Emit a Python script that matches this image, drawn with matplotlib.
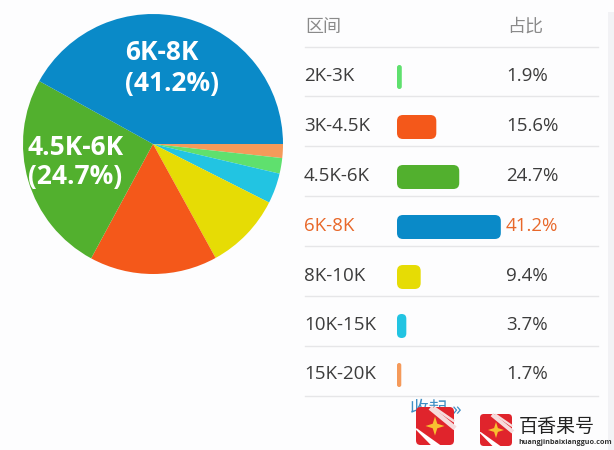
import matplotlib
matplotlib.use('agg')
import matplotlib.pyplot as plt
from matplotlib.patches import FancyBboxPatch, Polygon, Rectangle

plt.rcParams['font.family'] = ['Open Sans', 'Noto Sans CJK SC', 'DejaVu Sans']

header = ['区间', '占比']
ranges = ['2K-3K', '3K-4.5K', '4.5K-6K', '6K-8K', '8K-10K', '10K-15K', '15K-20K']
shares = [1.9, 15.6, 24.7, 41.2, 9.4, 3.7, 1.7]
colors = ['#5fe06e', '#f4581a', '#52b02e', '#0a8ac8', '#e6dc05', '#22c4e2', '#f59a5a']
# slices go clockwise from 3 o'clock
pie_order = [6, 0, 5, 4, 1, 2, 3]
row_y = [77, 127, 177, 227, 277, 326, 375]
line_y = [47, 96, 146, 196, 246, 296, 346, 396]

fig = plt.figure(figsize=(6.14, 4.5), dpi=100, facecolor='#fdfdfe')
ax = fig.add_axes([0, 0, 1, 1])

ax.pie([shares[i] for i in pie_order], colors=[colors[i] for i in pie_order],
       center=(153, 144), radius=130, startangle=0, counterclock=True, frame=True)
ax.set_xlim(0, 614)
ax.set_ylim(450, 0)
ax.set_aspect('auto')
ax.axis('off')

ax.text(125, 68, '6K-8K\n(41.2%)', color='white', fontsize=19, fontweight='bold',
        ha='left', va='center', linespacing=1.17)
ax.text(28, 162, '4.5K-6K\n(24.7%)', color='white', fontsize=19, fontweight='bold',
        ha='left', va='center', linespacing=1.08)

# table
ax.text(305, 27, header[0], color='#8a8a8a', fontsize=13, va='center')
ax.text(507, 27, header[1], color='#8a8a8a', fontsize=13, va='center')
for y in line_y:
    ax.plot([305, 598], [y, y], color='#e6e6e8', lw=1)
for i, name in enumerate(ranges):
    text_color = '#e8682a' if name == '6K-8K' else '#3c3c3c'
    ax.text(304, row_y[i] - 1, name, color=text_color, fontsize=13.5, va='center')
    ax.text(506, row_y[i] - 1, f'{shares[i]}%', color=text_color, fontsize=13.5, va='center')
    w = shares[i] * 2.52
    pad = min(w / 2, 6)
    ax.add_patch(FancyBboxPatch((397 + pad, row_y[i] - 12 + pad), w - 2 * pad, 24 - 2 * pad,
                                boxstyle=f'round,pad={pad},rounding_size={pad}',
                                fc=colors[i], ec='none'))

ax.add_patch(Rectangle((608, 12), 6, 438, fc='#f2f2f5', ec='none'))
ax.text(410, 409, '收起 »', color='#3f8fc4', fontsize=13.5, va='center')


# watermark logos
def logo(x, y, s):
    ax.add_patch(FancyBboxPatch((x + 0.1 * s, y + 0.1 * s), 0.8 * s, 0.8 * s,
                                boxstyle=f'round,pad={0.1 * s},rounding_size={0.12 * s}',
                                fc='#e0242c', ec='none', zorder=5))
    ax.add_patch(Polygon([(x - 0.02 * s, y + 0.58 * s), (x + 0.02 * s, y + 0.56 * s),
                          (x + 0.68 * s, y + 1.03 * s), (x + 0.42 * s, y + 1.03 * s)],
                         fc='white', ec='none', zorder=6))
    ax.plot([x + 0.42 * s, x + 0.98 * s], [y + 0.06 * s, y + 0.52 * s], color='#f6dcdc',
            lw=0.09 * s, zorder=6)
    ax.plot([x + 0.5 * s, x + 0.98 * s], [y + 0.03 * s, y + 0.36 * s], color='#f6dcdc',
            lw=0.05 * s, zorder=6)
    cx, cy = x + 0.5 * s, y + 0.5 * s
    r, q = 0.25 * s, 0.06 * s
    ax.add_patch(Polygon([(cx, cy - r), (cx + q, cy - q), (cx + r, cy), (cx + q, cy + q),
                          (cx, cy + r), (cx - q, cy + q), (cx - r, cy), (cx - q, cy - q)],
                         fc='#f8c030', ec='none', zorder=7))


logo(416, 407, 38)
logo(480, 414, 32)
ax.text(519, 427, '百香果号', color='#222222', fontsize=13.7, va='center', zorder=8)
ax.text(518, 443, 'huangjinbaixiangguo.com', color='#333333', fontsize=5.2, fontweight='bold',
        va='center', zorder=8)

fig.savefig('out.png', dpi=100, facecolor=fig.get_facecolor())
